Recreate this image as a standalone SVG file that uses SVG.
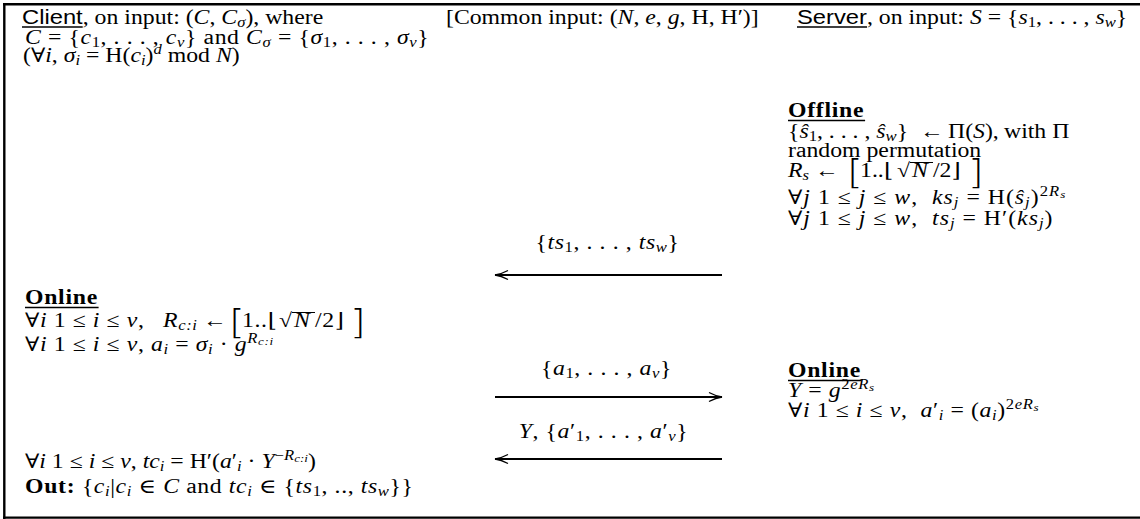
<svg xmlns="http://www.w3.org/2000/svg" width="1140" height="519" viewBox="0 0 1140 519">
<style>
text{font-family:"Liberation Serif","DejaVu Serif",serif;font-size:20px;fill:#000}
.it{font-style:italic}
.sf{font-family:"Liberation Sans","DejaVu Sans",sans-serif}
.bf{font-weight:bold;letter-spacing:0.6px}
.mx{letter-spacing:0.5px}
.mw{letter-spacing:0.85px}
.sb{font-size:14px}
.ss{font-size:11px}
.big{font-family:"DejaVu Sans",sans-serif;font-size:34px;font-weight:200;letter-spacing:0}
.ul{stroke:#000;stroke-width:1.4}
.vin{stroke:#000;stroke-width:1}
.frame{stroke:#000;stroke-width:2.4;fill:none}
.arr{stroke:#000;stroke-width:2;fill:none}
</style>
<defs>
<marker id="ah" viewBox="0 0 16 12" refX="14" refY="6" markerWidth="16" markerHeight="12" markerUnits="userSpaceOnUse" orient="auto">
<path d="M1,1.5 Q8,5.2 14,6 Q8,6.8 1,10.5" fill="none" stroke="#000" stroke-width="1.3"/>
</marker>
</defs>
<rect width="1140" height="519" fill="#fff"/>
<g id="frame">
<line class="frame" x1="3" y1="4.2" x2="1140" y2="4.2"/>
<line class="frame" x1="4.3" y1="3" x2="4.3" y2="519"/>
<line class="frame" x1="3" y1="517.6" x2="1140" y2="517.6"/>
</g>

<g id="client-header" transform="scale(1.188 1)">
<text x="18.52" y="24"><tspan class="sf">Client</tspan>, on input: (<tspan class="it">C</tspan>, <tspan class="it">C</tspan><tspan class="sb it" dy="3.5">σ</tspan><tspan dy="-3.5">), where</tspan></text>
<line class="ul" x1="18.52" y1="27" x2="69.6" y2="27"/>
<text class="mx" x="21.04" y="44"><tspan class="it">C</tspan> = {<tspan class="it">c</tspan><tspan class="sb" dy="3.5">1</tspan><tspan dy="-3.5">, . . . , </tspan><tspan class="it">c</tspan><tspan class="sb it" dy="3.5">v</tspan><tspan dy="-3.5">} and </tspan><tspan class="it">C</tspan><tspan class="sb it" dy="3.5">σ</tspan><tspan dy="-3.5"> = {</tspan><tspan class="it">σ</tspan><tspan class="sb" dy="3.5">1</tspan><tspan dy="-3.5">, . . . , </tspan><tspan class="it">σ</tspan><tspan class="sb it" dy="3.5">v</tspan><tspan dy="-3.5">}</tspan></text>
<text x="19.36" y="62">(∀<tspan class="it">i</tspan>, <tspan class="it">σ</tspan><tspan class="sb it" dy="3.5">i</tspan><tspan dy="-3.5"> = H(</tspan><tspan class="it">c</tspan><tspan class="sb it" dy="3.5">i</tspan><tspan dy="-3.5">)</tspan><tspan class="sb it" dy="-8">d</tspan><tspan dy="8"> mod </tspan><tspan class="it">N</tspan>)</text>
</g>

<g id="common-input" transform="scale(1.188 1)">
<text x="375.42" y="24">[Common input: (<tspan class="it">N</tspan>, <tspan class="it">e</tspan>, <tspan class="it">g</tspan>, H, H′)]</text>
</g>

<g id="server-header" transform="scale(1.188 1)">
<text x="670.88" y="24"><tspan class="sf">Server</tspan>, on input: <tspan class="it">S</tspan> = {<tspan class="it">s</tspan><tspan class="sb" dy="3.5">1</tspan><tspan dy="-3.5">, . . . , </tspan><tspan class="it">s</tspan><tspan class="sb it" dy="3.5">w</tspan><tspan dy="-3.5">}</tspan></text>
<line class="ul" x1="670.88" y1="27" x2="729.8" y2="27"/>
</g>

<g id="server-offline" transform="scale(1.188 1)">
<text class="bf" x="663.3" y="117">Offline</text>
<line class="ul" x1="663.3" y1="120.5" x2="728.2" y2="120.5"/>
<text x="663.3" y="138">{<tspan class="it">ŝ</tspan><tspan class="sb" dy="3.5">1</tspan><tspan dy="-3.5">, . . . , </tspan><tspan class="it">ŝ</tspan><tspan class="sb it" dy="3.5">w</tspan><tspan dy="-3.5">}</tspan><tspan x="774.41">←</tspan><tspan x="797.98">Π(</tspan><tspan class="it">S</tspan>),<tspan x="845.12">with Π</tspan></text>
<text x="663.3" y="157">random permutation</text>
<text x="663.3" y="177"><tspan class="it">R</tspan><tspan class="sb it" dy="3.5">s</tspan><tspan dy="-3.5" x="686.03">←</tspan><tspan x="723.91">1..⌊</tspan><tspan x="755.05">√</tspan><tspan class="it" x="767.68">N</tspan><tspan x="785.35">/2⌋</tspan></text>
<line class="vin" x1="766" y1="162.5" x2="785.35" y2="162.5"/>
<text class="big" x="712.96" y="184.5">[</text>
<text class="big" x="814.81" y="184.5">]</text>
<text class="mw" x="663.3" y="204">∀<tspan class="it">j</tspan> 1 ≤ <tspan class="it">j</tspan> ≤ <tspan class="it">w</tspan>,&#160; <tspan class="it">ks</tspan><tspan class="sb it" dy="3.5">j</tspan><tspan dy="-3.5"> = H(</tspan><tspan class="it">ŝ</tspan><tspan class="sb it" dy="3.5">j</tspan><tspan dy="-3.5">)</tspan><tspan class="sb" dy="-8">2</tspan><tspan class="sb it">R</tspan><tspan class="ss it" dy="2.5">s</tspan></text>
<text class="mw" x="663.3" y="225">∀<tspan class="it">j</tspan> 1 ≤ <tspan class="it">j</tspan> ≤ <tspan class="it">w</tspan>,&#160; <tspan class="it">ts</tspan><tspan class="sb it" dy="3.5">j</tspan><tspan dy="-3.5"> = H′(</tspan><tspan class="it">ks</tspan><tspan class="sb it" dy="3.5">j</tspan><tspan dy="-3.5">)</tspan></text>
</g>

<g id="client-online" transform="scale(1.188 1)">
<text class="bf" x="21.04" y="304">Online</text>
<line class="ul" x1="21.04" y1="307.5" x2="83" y2="307.5"/>
<text class="mx" x="21.04" y="327">∀<tspan class="it">i</tspan> 1 ≤ <tspan class="it">i</tspan> ≤ <tspan class="it">v</tspan>, <tspan class="it" x="137.3">R</tspan><tspan class="sb it" dy="3.5">c:i</tspan><tspan dy="-3.5" x="170.88">←</tspan><tspan x="203.7">1..⌊</tspan><tspan x="234.85">√</tspan><tspan class="it" x="247.47">N</tspan><tspan x="265.15">/2⌋</tspan></text>
<line class="vin" x1="245.8" y1="312.5" x2="265.15" y2="312.5"/>
<text class="big" x="192.76" y="334.5">[</text>
<text class="big" x="294.61" y="334.5">]</text>
<text class="mx" x="21.04" y="351">∀<tspan class="it">i</tspan> 1 ≤ <tspan class="it">i</tspan> ≤ <tspan class="it">v</tspan>, <tspan class="it">a</tspan><tspan class="sb it" dy="3.5">i</tspan><tspan dy="-3.5"> = </tspan><tspan class="it">σ</tspan><tspan class="sb it" dy="3.5">i</tspan><tspan dy="-3.5"> · </tspan><tspan class="it">g</tspan><tspan class="sb it" dy="-8">R</tspan><tspan class="ss it" dy="2.5">c:i</tspan></text>
</g>

<g id="server-online" transform="scale(1.188 1)">
<text class="bf" x="663.3" y="377">Online</text>
<line class="ul" x1="663.3" y1="380.5" x2="725.3" y2="380.5"/>
<text class="mx" x="663.3" y="397"><tspan class="it">Y</tspan> = <tspan class="it">g</tspan><tspan class="sb" dy="-8">2</tspan><tspan class="sb it">eR</tspan><tspan class="ss it" dy="2.5">s</tspan></text>
<text class="mx" x="663.3" y="417">∀<tspan class="it">i</tspan> 1 ≤ <tspan class="it">i</tspan> ≤ <tspan class="it">v</tspan>,&#160; <tspan class="it">a</tspan>′<tspan class="sb it" dy="3.5">i</tspan><tspan dy="-3.5"> = (</tspan><tspan class="it">a</tspan><tspan class="sb it" dy="3.5">i</tspan><tspan dy="-3.5">)</tspan><tspan class="sb" dy="-8">2</tspan><tspan class="sb it">eR</tspan><tspan class="ss it" dy="2.5">s</tspan></text>
</g>

<g id="client-result" transform="scale(1.188 1)">
<text x="21.04" y="468">∀<tspan class="it">i</tspan> 1 ≤ <tspan class="it">i</tspan> ≤ <tspan class="it">v</tspan>, <tspan class="it">tc</tspan><tspan class="sb it" dy="3.5">i</tspan><tspan dy="-3.5"> = H′(</tspan><tspan class="it">a</tspan>′<tspan class="sb it" dy="3.5">i</tspan><tspan dy="-3.5"> · </tspan><tspan class="it">Y</tspan><tspan class="sb" dy="-8">−</tspan><tspan class="sb it">R</tspan><tspan class="ss it" dy="2.5">c:i</tspan><tspan dy="5.5">)</tspan></text>
<text class="mx" x="21.04" y="493"><tspan class="bf">Out:</tspan> {<tspan class="it">c</tspan><tspan class="sb it" dy="3.5">i</tspan><tspan dy="-3.5">|</tspan><tspan class="it">c</tspan><tspan class="sb it" dy="3.5">i</tspan><tspan dy="-3.5"> ∈ </tspan><tspan class="it">C</tspan> and <tspan class="it">tc</tspan><tspan class="sb it" dy="3.5">i</tspan><tspan dy="-3.5"> ∈ {</tspan><tspan class="it">ts</tspan><tspan class="sb" dy="3.5">1</tspan><tspan dy="-3.5">, .., </tspan><tspan class="it">ts</tspan><tspan class="sb it" dy="3.5">w</tspan><tspan dy="-3.5">}}</tspan></text>
</g>

<g id="connectors">
<line class="arr" x1="722" y1="275" x2="495" y2="275" marker-end="url(#ah)"/>
<line class="arr" x1="495" y1="397" x2="722" y2="397" marker-end="url(#ah)"/>
<line class="arr" x1="722" y1="459" x2="495" y2="459" marker-end="url(#ah)"/>
<g transform="scale(1.188 1)">
<text class="mx" x="511.36" y="249" text-anchor="middle">{<tspan class="it">ts</tspan><tspan class="sb" dy="3.5">1</tspan><tspan dy="-3.5">, . . . , </tspan><tspan class="it">ts</tspan><tspan class="sb it" dy="3.5">w</tspan><tspan dy="-3.5">}</tspan></text>
<text class="mx" x="510.52" y="375" text-anchor="middle">{<tspan class="it">a</tspan><tspan class="sb" dy="3.5">1</tspan><tspan dy="-3.5">, . . . , </tspan><tspan class="it">a</tspan><tspan class="sb it" dy="3.5">v</tspan><tspan dy="-3.5">}</tspan></text>
<text class="mx" x="508" y="438" text-anchor="middle"><tspan class="it">Y</tspan>, {<tspan class="it">a</tspan>′<tspan class="sb" dy="3.5">1</tspan><tspan dy="-3.5">, . . . , </tspan><tspan class="it">a</tspan>′<tspan class="sb it" dy="3.5">v</tspan><tspan dy="-3.5">}</tspan></text>
</g>
</g>
</svg>
